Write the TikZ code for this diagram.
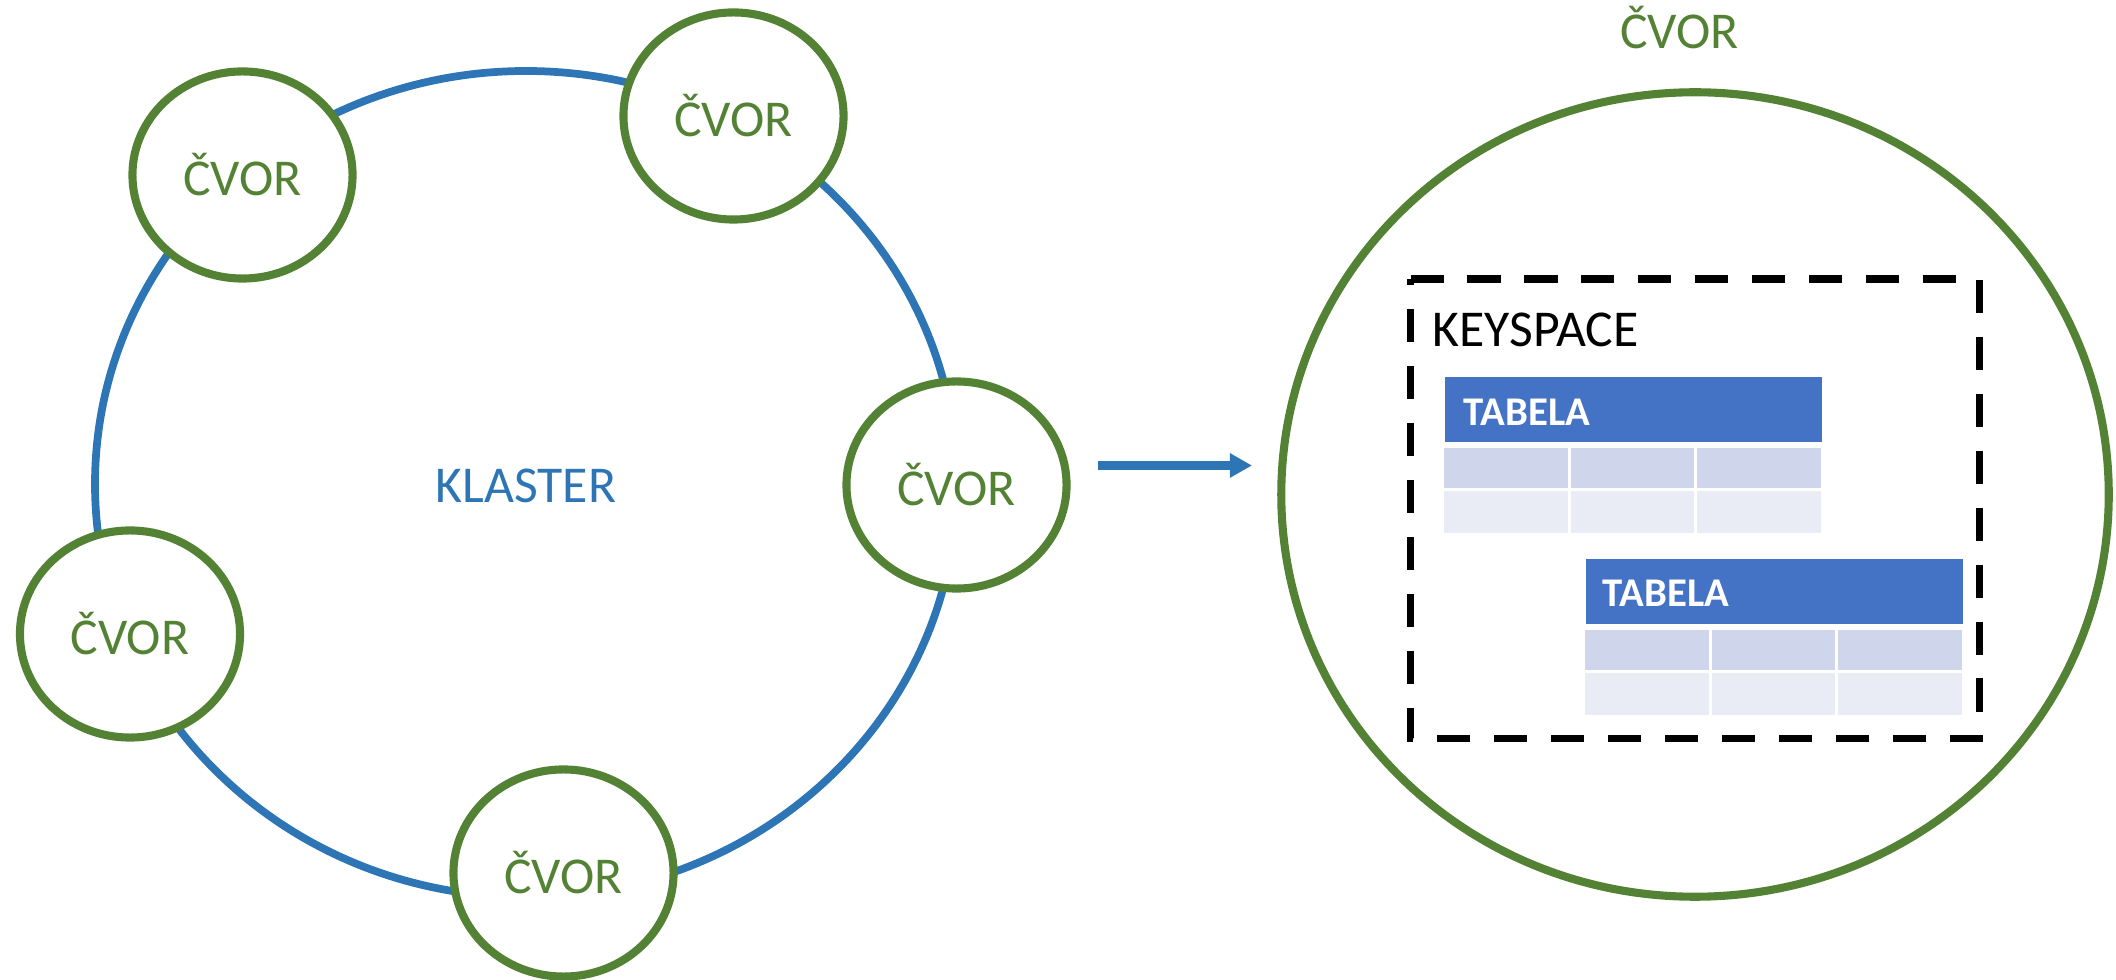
\documentclass[tikz,border=0pt]{standalone}
\usepackage{fontspec}
\setmainfont{Carlito}
\usetikzlibrary{shapes.geometric,arrows.meta,calc}

\definecolor{nodegreen}{HTML}{548235}
\definecolor{clusterblue}{HTML}{2E75B6}
\definecolor{headerblue}{HTML}{4472C4}
\definecolor{rowdark}{HTML}{CFD5EA}
\definecolor{rowlight}{HTML}{E9EBF5}

\tikzset{
  cvor/.style={ellipse, draw=nodegreen, line width=2.3pt, fill=white,
    text=nodegreen, minimum width=2.20cm, minimum height=2.07cm,
    inner sep=0pt, font=\fontsize{14.7}{17}\selectfont},
  bigcvor/.style={ellipse, draw=nodegreen, line width=2.3pt,
    minimum width=8.27cm, minimum height=8.04cm, inner sep=0pt},
  txt/.style={inner sep=0pt, font=\fontsize{14.7}{17}\selectfont},
  tblhead/.style={fill=headerblue, minimum width=3.77cm,
    minimum height=0.65cm, inner sep=0pt},
  tbltext/.style={inner sep=0pt, text=white,
    font=\fontsize{11.6}{14}\selectfont\bfseries},
  ringline/.style={draw=clusterblue, line width=2.2pt},
  keyspaceline/.style={draw=black, line width=2pt,
    dash pattern=on 9.4pt off 6.8pt},
}

% table: header bar with title and two rows of three cells
\newcommand\keytable[2]{%
  \node[tbltext, anchor=base west] (#1-title)
    at ($(#1.north west)+(#2)$) {TABELA};
  \foreach \c in {0,1,2} {
    \fill[rowdark] ($(#1.north west)+(\c*126.67,72)$) rectangle +(123.67,40);
    \fill[rowlight] ($(#1.north west)+(\c*126.67,115)$) rectangle +(123.67,42);
  }%
}

\begin{document}
\begin{tikzpicture}[x=0.01cm, y=-0.01cm]
  \useasboundingbox (0,0) rectangle (2116,980);

  % cluster ring
  \draw[ringline] (526,484) ellipse [x radius=431, y radius=413];

  % nodes on the ring
  \node[cvor] (n1) at (242.5,175) {ČVOR};
  \node[cvor] (n2) at (733.5,116) {ČVOR};
  \node[cvor] (n3) at (956.5,485) {ČVOR};
  \node[cvor] (n4) at (130,634)   {ČVOR};
  \node[cvor] (n5) at (563.5,873) {ČVOR};
  \node[txt, text=clusterblue, anchor=base] (klaster) at (526,503) {KLASTER};

  % arrow towards the detailed node
  \coordinate (arrowfrom) at (1098,465.5);
  \coordinate (arrowto) at (1252,465.5);
  \draw[clusterblue, line width=2.5pt,
        -{Triangle[length=6.3pt,width=6.6pt]}] (arrowfrom) -- (arrowto);

  % detailed node
  \node[bigcvor] (big) at (1695,494.5) {};
  \node[txt, text=nodegreen, anchor=base] (bigtitle) at (1679.5,49) {ČVOR};

  % keyspace
  \coordinate (ks-nw) at (1410.5,279);
  \coordinate (ks-se) at (1979.5,738.5);
  \draw[keyspaceline] (ks-nw) -- (ks-nw -| ks-se) -- (ks-se)
        -- (ks-se -| ks-nw) -- cycle;
  \node[txt, anchor=base west] (keyspace) at (1432,347) {KEYSPACE};

  % tables
  \node[tblhead, anchor=north west] (t1) at (1444,376) {};
  \keytable{t1}{19,50}
  \node[tblhead, anchor=north west] (t2) at (1585,558) {};
  \keytable{t2}{17,49}
\end{tikzpicture}
\end{document}
